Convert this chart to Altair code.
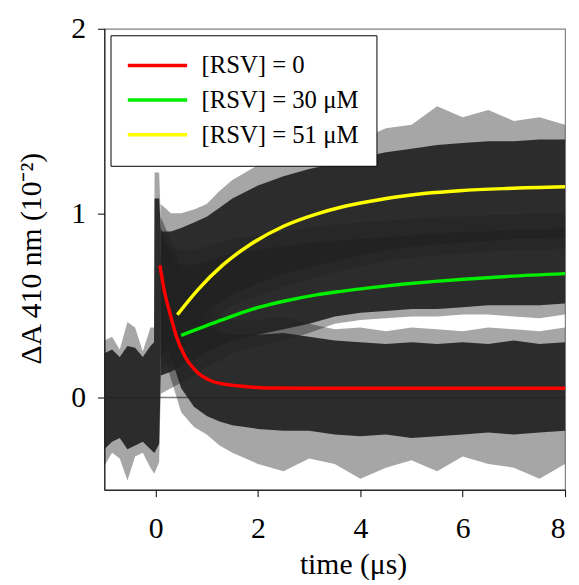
import altair as alt
import pandas as pd

FONT = "Liberation Serif"

# ---- fitted curves ----
t_red = [0.085, 0.18, 0.28, 0.405, 0.57, 0.82, 1.08, 1.31, 1.6, 2.18, 3.0, 4.0, 5.0, 6.0, 7.0, 8.0]
y_red = [0.718, 0.566, 0.458, 0.333, 0.225, 0.136, 0.091, 0.074, 0.064, 0.052, 0.050, 0.050, 0.050, 0.050, 0.050, 0.050]
t_green = [0.50, 1.31, 1.85, 2.50, 3.14, 3.62, 4.17, 4.81, 5.46, 5.94, 6.87, 8.0]
y_green = [0.337, 0.422, 0.476, 0.522, 0.557, 0.576, 0.595, 0.614, 0.630, 0.640, 0.657, 0.672]
t_yellow = [0.425, 0.82, 1.31, 1.85, 2.5, 3.14, 3.62, 4.17, 4.81, 5.46, 5.94, 6.87, 8.0]
y_yellow = [0.449, 0.583, 0.718, 0.830, 0.929, 0.995, 1.032, 1.063, 1.092, 1.112, 1.122, 1.134, 1.143]

labels = ["[RSV] = 0", "[RSV] = 30 μM", "[RSV] = 51 μM"]
colors = ["#ff0000", "#00ee00", "#ffff00"]

# ---- noisy data clouds: envelopes ----
t_pre = [-1.0, -0.85, -0.7, -0.55, -0.4, -0.25, -0.1, -0.03, -0.02, 0.07, 0.1]
pre_hi = [0.24, 0.26, 0.22, 0.28, 0.27, 0.22, 0.28, 0.30, 1.08, 1.08, 0.92]
pre_lo = [-0.28, -0.24, -0.22, -0.28, -0.26, -0.24, -0.28, -0.30, -0.30, -0.25, 0.12]
pre_xhi = [0.31, 0.33, 0.26, 0.41, 0.38, 0.25, 0.38, 0.38, 1.22, 1.22, 0.98]
pre_xlo = [-0.37, -0.30, -0.33, -0.45, -0.32, -0.30, -0.38, -0.41, -0.41, -0.35, 0.02]

t_post = [0.1, 0.3, 0.5, 0.75, 1.0, 1.25, 1.5, 2.0, 2.5, 3.0, 3.5, 4.0, 4.5, 5.0, 5.5, 6.0, 6.5, 7.0, 7.5, 8.0]
red_hi = [0.92, 0.78, 0.60, 0.47, 0.40, 0.36, 0.34, 0.34, 0.35, 0.33, 0.31, 0.30, 0.29, 0.30, 0.29, 0.30, 0.29, 0.31, 0.29, 0.30]
red_lo = [0.45, 0.22, 0.05, -0.05, -0.10, -0.13, -0.15, -0.17, -0.18, -0.18, -0.20, -0.21, -0.20, -0.22, -0.21, -0.20, -0.19, -0.20, -0.19, -0.18]
red_xhi = [0.98, 0.85, 0.70, 0.56, 0.48, 0.44, 0.42, 0.42, 0.44, 0.40, 0.37, 0.38, 0.36, 0.38, 0.37, 0.36, 0.38, 0.37, 0.36, 0.38]
red_xlo = [0.30, 0.10, -0.08, -0.16, -0.20, -0.26, -0.30, -0.36, -0.40, -0.33, -0.36, -0.44, -0.38, -0.34, -0.40, -0.32, -0.36, -0.38, -0.44, -0.36]

green_hi = [0.78, 0.74, 0.72, 0.72, 0.74, 0.76, 0.78, 0.80, 0.82, 0.84, 0.85, 0.86, 0.87, 0.88, 0.89, 0.90, 0.90, 0.91, 0.91, 0.92]
green_lo = [0.12, 0.14, 0.17, 0.21, 0.25, 0.28, 0.31, 0.34, 0.37, 0.40, 0.44, 0.46, 0.47, 0.48, 0.48, 0.49, 0.50, 0.50, 0.50, 0.51]
green_xhi = [0.85, 0.82, 0.80, 0.80, 0.82, 0.84, 0.86, 0.88, 0.90, 0.92, 0.94, 0.95, 0.96, 0.97, 0.98, 0.98, 0.99, 0.99, 1.0, 1.0]
green_xlo = [0.02, 0.05, 0.08, 0.12, 0.17, 0.20, 0.24, 0.28, 0.31, 0.35, 0.40, 0.42, 0.43, 0.44, 0.44, 0.45, 0.45, 0.44, 0.43, 0.45]

yellow_hi = [0.90, 0.90, 0.92, 0.95, 0.98, 1.03, 1.08, 1.15, 1.20, 1.24, 1.27, 1.30, 1.33, 1.35, 1.37, 1.38, 1.39, 1.39, 1.40, 1.40]
yellow_lo = [0.22, 0.27, 0.32, 0.40, 0.47, 0.52, 0.56, 0.62, 0.67, 0.71, 0.74, 0.77, 0.80, 0.82, 0.83, 0.84, 0.85, 0.86, 0.86, 0.87]
yellow_xhi = [1.05, 1.0, 1.0, 1.02, 1.05, 1.12, 1.18, 1.26, 1.30, 1.33, 1.36, 1.40, 1.46, 1.48, 1.58, 1.52, 1.56, 1.50, 1.52, 1.48]
yellow_xlo = [0.15, 0.20, 0.25, 0.33, 0.40, 0.45, 0.50, 0.55, 0.60, 0.64, 0.68, 0.71, 0.74, 0.76, 0.77, 0.78, 0.79, 0.80, 0.80, 0.81]

zero_line = [0.0]

# ---- build tables ----
band_rows = []
def add_band(name, ts, lo, hi, xlo, xhi):
    for i, t in enumerate(ts):
        band_rows.append({"trace": name, "t": t, "lo": lo[i], "hi": hi[i], "xlo": xlo[i], "xhi": xhi[i]})

add_band("pre", t_pre, pre_lo, pre_hi, pre_xlo, pre_xhi)
add_band("red", t_post, red_lo, red_hi, red_xlo, red_xhi)
add_band("green", t_post, green_lo, green_hi, green_xlo, green_xhi)
add_band("yellow", t_post, yellow_lo, yellow_hi, yellow_xlo, yellow_xhi)
bands = pd.DataFrame(band_rows)

fit_rows = []
for lab, ts, ys in zip(labels, [t_red, t_green, t_yellow], [y_red, y_green, y_yellow]):
    for t, y in zip(ts, ys):
        fit_rows.append({"series": lab, "t": t, "y": y})
fits = pd.DataFrame(fit_rows)
zero_df = pd.DataFrame({"y": zero_line})

xscale = alt.Scale(domain=[-1, 8], nice=False, zero=False)
yscale = alt.Scale(domain=[-0.5, 2], nice=False, zero=False)
AX = dict(grid=False, labelFont=FONT, titleFont=FONT, labelFontSize=30, titleFontSize=30,
          titleFontWeight="normal", labelColor="#000000", titleColor="#000000",
          domainColor="#000000", tickColor="#000000", tickSize=7)
xaxis = alt.Axis(values=[0, 2, 4, 6, 8], title="time (μs)", labelPadding=17,
                 titleX=251.5, titleY=85, titleBaseline="alphabetic", titleAlign="center", **AX)
yaxis = alt.Axis(values=[0, 1, 2], title="ΔA 410 nm (10⁻²)", labelPadding=12,
                 titleX=-64.5, titleY=232, titleAngle=-90, titleBaseline="alphabetic",
                 titleAlign="center", **AX)

def X(field):
    return alt.X(field, type="quantitative", scale=xscale, axis=xaxis)

def Y(field):
    return alt.Y(field, type="quantitative", scale=yscale, axis=yaxis)

zero = alt.Chart(zero_df).mark_rule(color="#808080", strokeWidth=1.5).encode(y=Y("y"))

ext = alt.Chart(bands).mark_area(color="#000000", opacity=0.35).encode(
    x=X("t"), y=Y("xlo"), y2="xhi", detail="trace:N")

dense = alt.Chart(bands).mark_area(color="#222222", opacity=0.92).encode(
    x=X("t"), y=Y("lo"), y2="hi", detail="trace:N")

lines = alt.Chart(fits).mark_line(strokeWidth=3.5, interpolate="monotone").encode(
    x=X("t"), y=Y("y"),
    color=alt.Color("series:N", sort=labels,
                    scale=alt.Scale(domain=labels, range=colors),
                    legend=alt.Legend(title=None, orient="none", legendX=6.2, legendY=6.6,
                                      symbolType="M-3,0H3", symbolSize=400,
                                      symbolStrokeWidth=3.5, symbolOffset=17,
                                      labelOffset=32, labelFontSize=25, labelFont=FONT,
                                      labelColor="#000000", padding=18, rowPadding=9,
                                      strokeColor="#000000", fillColor="#ffffff",
                                      labelLimit=400)))

chart = alt.layer(zero, ext, dense, lines).properties(
    width=466, height=466.3,
    autosize=alt.AutoSizeParams(type="none"),
    padding={"left": 97.5, "top": 17.7, "right": 6, "bottom": 90},
    view=alt.ViewBackground(stroke="#808080", strokeWidth=1.2),
)

chart.save("out.html", embed_options={"renderer": "svg", "actions": False})
